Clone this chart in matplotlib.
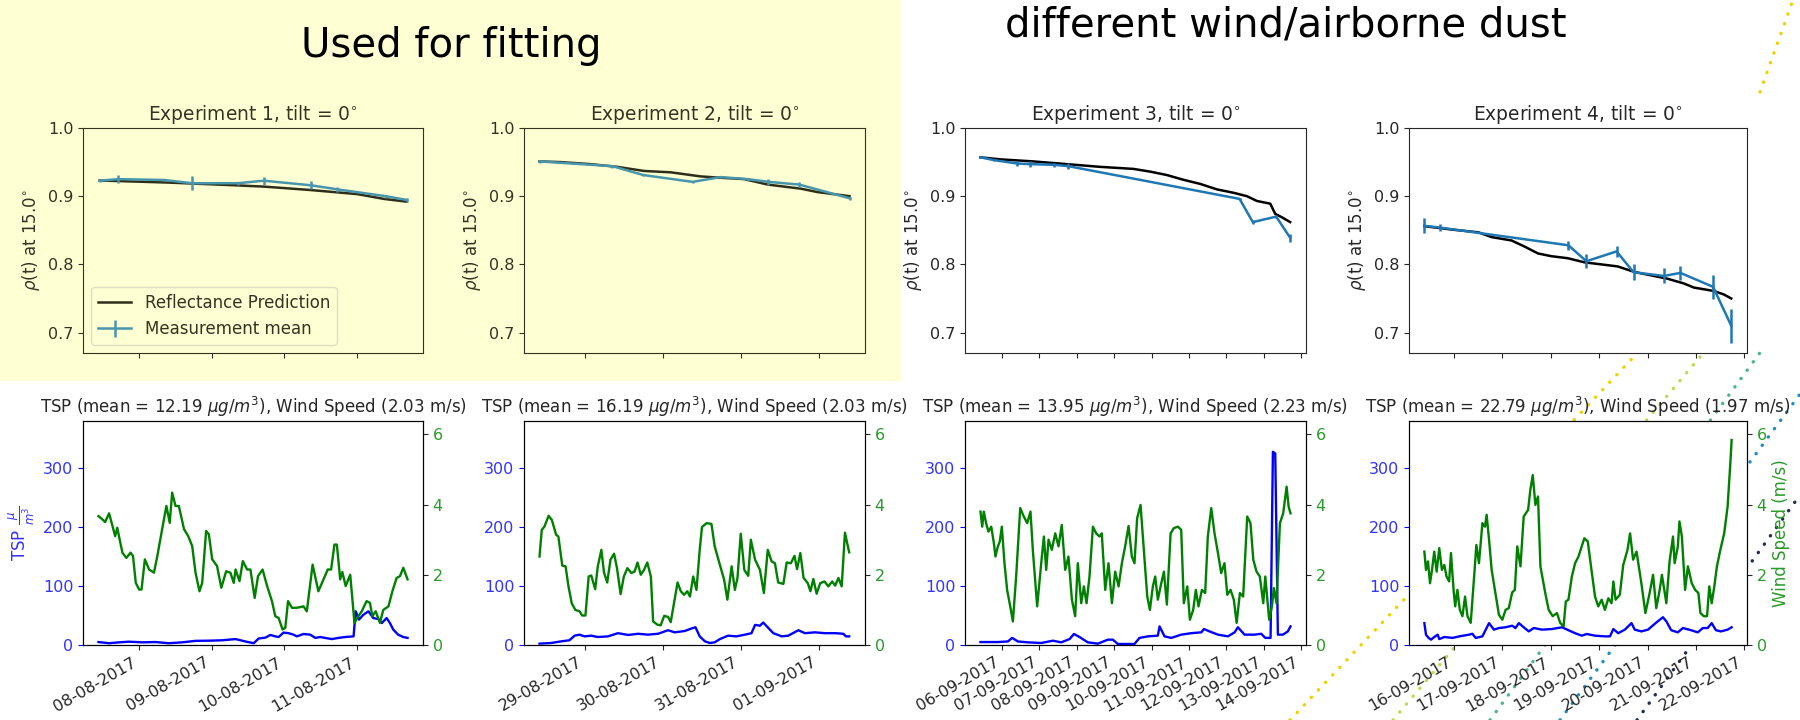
import matplotlib
matplotlib.use("Agg")
import matplotlib.pyplot as plt
import matplotlib.dates as mdates
from matplotlib.lines import Line2D
from matplotlib.patches import Rectangle
import pandas as pd

# ---- data (hours after the start of each experiment) ----
starts = ["2017-08-07 10:40", "2017-08-28 10:10", "2017-09-05 10:10", "2017-09-15 09:15"]
tsp_means = [12.19, 16.19, 13.95, 22.79]
wind_means = [2.03, 2.03, 2.23, 1.97]

exp1_wind_h = [0.0, 1.3, 2.2, 3.5, 4.9, 5.5, 6.2, 7.0, 7.9, 9.2, 10.6, 11.4, 12.3, 13.4, 14.2, 15.3,
               16.7, 18.3, 19.4, 21.0, 22.4, 23.5, 24.3, 25.4, 26.5, 28.2, 29.6, 30.9, 32.0, 33.3,
               34.2, 35.5, 36.4, 37.5, 39.1, 40.5, 42.1, 43.5, 44.6, 45.2, 46.5, 47.6, 49.0, 50.1,
               51.5, 52.6, 54.1, 55.6, 57.2, 58.3, 59.4, 60.7, 61.6, 62.5, 63.8, 65.4, 67.6, 68.7,
               70.6, 72.5, 74.2, 75.6, 76.7, 77.8, 78.6, 79.7, 80.4, 81.5, 83.0, 84.4, 85.7, 86.8,
               88.4, 89.5, 90.3, 91.4, 92.8, 93.9, 95.6, 96.9, 98.3, 99.4, 100.5, 101.9]
exp1_wind = [3.67, 3.58, 3.5, 3.75, 3.3, 3.1, 3.34, 3.0, 2.63, 2.48, 2.63, 2.53, 1.77, 1.58, 1.58, 2.44,
             2.15, 2.06, 2.53, 3.3, 3.96, 3.48, 4.34, 3.96, 3.96, 3.3, 3.1, 2.82, 2.06, 1.53,
             1.77, 3.25, 3.15, 2.44, 2.25, 1.63, 2.1, 2.06, 1.77, 2.15, 1.82, 2.39, 2.15, 2.15,
             1.34, 1.96, 2.15, 1.68, 1.25, 0.82, 0.77, 0.44, 0.49, 1.25, 1.06, 1.06, 1.1, 0.96,
             2.29, 1.53, 1.87, 2.15, 2.15, 2.86, 2.86, 1.87, 2.08, 1.68, 2.0, 0.63, 0.82, 0.96,
             1.25, 1.2, 0.82, 0.96, 0.63, 1.0, 1.1, 1.53, 1.91, 1.96, 2.2, 1.87]
exp1_tsp_h = [0, 3.5, 6.8, 10.1, 14.5, 18.8, 23.2, 27.6, 32.0, 36.4, 40.8, 45.2, 48.4, 51.2, 52.8,
              55.0, 56.7, 58.3, 59.4, 61.0, 62.7, 64.3, 65.4, 67.6, 69.8, 71.5, 73.1, 74.7, 76.9,
              79.1, 81.3, 84.1, 84.8, 85.9, 87.3, 89.0, 90.6, 92.3, 93.4, 95.0, 96.1, 97.2, 98.8,
              100.5, 101.9]
exp1_tsp = [5, 3, 4.5, 5.6, 4.5, 5, 3, 4.5, 7, 7.3, 8, 10, 6, 3, 11,
            12.4, 17, 14.6, 13.5, 21, 20, 17.5, 14.6, 18.6, 17.5, 12, 13.5, 12, 10,
            12, 13.5, 14.6, 57, 43, 51, 57, 45.6, 44, 37, 45.6, 37, 26, 17.5,
            13.5, 12]
exp1_meas_h = [0.4, 6.5, 21.8, 30.8, 45.9, 54.5, 70.0, 78.8, 94.7, 101.6]
exp1_meas = [0.9227, 0.925, 0.9237, 0.919, 0.919, 0.9227, 0.916, 0.910, 0.900, 0.8945]
exp1_err = [0.002, 0.006, 0.002, 0.010, 0.002, 0.006, 0.006, 0.004, 0.002, 0.003]
exp1_pred_h = [0.4, 22.9, 44.8, 54.7, 70.0, 85.4, 94.1, 101.6]
exp1_pred = [0.923, 0.920, 0.916, 0.914, 0.909, 0.903, 0.896, 0.892]

exp2_wind_h = [0, 0.7, 1.5, 2.8, 3.8, 5.1, 5.8, 7.0, 8.0, 8.9, 9.9, 11.0, 12.3, 13.1, 14.1, 15.1,
               15.9, 17.1, 17.9, 19.0, 19.8, 20.8, 21.8, 22.9, 23.8, 24.9, 25.9, 27.0, 28.2, 29.2,
               30.1, 31.1, 32.1, 33.1, 34.2, 34.9, 36.2, 37.2, 38.3, 39.5, 40.3, 41.3, 42.4, 43.4,
               44.4, 45.4, 46.2, 47.2, 48.2, 49.2, 49.9, 51.3, 52.8, 53.8, 55.4, 56.7, 57.7, 59.0,
               60.0, 60.8, 61.8, 62.9, 64.1, 64.9, 66.2, 67.7, 68.9, 70.1, 71.3, 72.3, 73.3, 74.9,
               75.9, 77.2, 78.3, 79.1, 80.1, 81.1, 82.4, 83.2, 84.1, 85.1, 86.2, 87.5, 88.7, 89.9,
               90.8, 91.8, 92.8, 93.8, 95.1]
exp2_wind = [2.52, 3.28, 3.37, 3.68, 3.56, 3.14, 3.09, 2.26, 2.24, 1.67, 1.19, 1.0, 0.96, 0.84, 0.84, 1.95,
             1.98, 1.59, 2.24, 2.71, 2.07, 1.78, 2.43, 2.6, 2.19, 1.45, 1.95, 2.19, 2.05, 2.09,
             2.35, 2.0, 2.14, 2.35, 1.95, 0.67, 0.58, 0.56, 0.83, 0.8, 0.65, 1.19, 1.78, 1.53,
             1.43, 1.53, 1.38, 1.95, 1.57, 2.71, 3.36, 3.47, 3.45, 2.81, 2.28, 1.86, 1.29, 2.24,
             1.57, 1.91, 3.17, 2.14, 1.97, 3.0, 2.43, 2.14, 1.48, 2.71, 2.38, 2.33, 1.78, 1.74,
             2.35, 2.33, 2.54, 2.16, 2.62, 1.91, 1.76, 1.53, 1.88, 1.46, 1.76, 1.81, 1.67, 1.81,
             1.69, 1.91, 1.67, 3.2, 2.64]
exp2_tsp_h = [0, 3.6, 6.7, 9.2, 10.8, 12.3, 13.8, 15.9, 17.9, 21.0, 24.1, 27.2, 30.3, 33.3, 36.4,
              39.5, 41.5, 44.6, 46.7, 47.9, 49.2, 50.8, 52.3, 53.8, 55.4, 57.9, 60.5, 63.1, 65.1,
              66.2, 67.7, 68.7, 70.3, 71.8, 74.4, 76.4, 79.5, 81.5, 84.6, 87.7, 90.8, 93.3, 94.1,
              95.1]
exp2_tsp = [2.3, 3.4, 6.2, 8, 15.8, 17.5, 14.6, 15.8, 13.5, 14.6, 20, 17, 19, 17.5, 19,
            25, 21.4, 23.7, 28, 30, 14.6, 6.2, 3.4, 4.5, 10, 15.8, 14.6, 17.5, 20,
            34, 32.7, 38, 28.7, 20, 14.6, 15.8, 25, 20, 21.4, 20, 20, 19, 14.6,
            14.6]
exp2_meas_h = [0.0, 22.4, 31.9, 47.0, 55.7, 63.9, 70.3, 79.8, 95.2]
exp2_meas = [0.951, 0.944, 0.931, 0.921, 0.928, 0.925, 0.921, 0.917, 0.897]
exp2_err = [0.002, 0.002, 0.002, 0.002, 0.002, 0.002, 0.004, 0.004, 0.002]
exp2_pred_h = [0.0, 6.5, 15.7, 23.9, 32.1, 40.3, 49.5, 55.7, 62.9, 70.1, 80.3, 85.4, 95.2]
exp2_pred = [0.951, 0.950, 0.947, 0.943, 0.937, 0.935, 0.929, 0.927, 0.925, 0.917, 0.911, 0.906, 0.900]

exp3_wind_h = [0, 1.1, 2.1, 3.6, 5.1, 6.9, 8.6, 9.6, 11.1, 12.4, 13.7, 15.4, 17.1, 19.3, 20.8, 22.9,
               25.5, 27.8, 30.0, 32.1, 33.6, 36.4, 39.0, 40.7, 42.2, 43.7, 45.8, 48.0, 50.1, 52.2,
               54.4, 56.5, 58.7, 60.8, 62.5, 64.7, 66.4, 68.1, 70.0, 72.2, 74.3, 76.4, 77.9, 80.1,
               82.2, 84.4, 86.5, 88.7, 90.8, 92.9, 95.1, 97.2, 98.9, 100.6, 102.8, 104.9, 107.1,
               108.8, 110.7, 112.2, 113.9, 116.1, 117.8, 119.7, 122.1, 124.2, 126.8, 128.9, 130.6,
               132.8, 134.5, 136.6, 138.3, 140.0, 142.2, 144.3, 146.0, 148.2, 150.3, 152.5, 154.6,
               156.7, 158.5, 160.6, 162.7, 164.5, 166.6, 168.7, 171.3, 173.4, 175.2, 177.3, 179.4,
               181.6, 182.9, 185.4, 187.2, 188.4, 190.1, 192.3, 194.4, 196.6, 197.9, 199.1]
exp3_wind = [3.8, 3.37, 3.8, 3.47, 3.23, 3.37, 2.9, 2.52, 2.8, 2.95, 3.37, 2.33, 1.57, 1.05, 0.67, 1.95,
             3.9, 3.66, 3.47, 3.8, 2.71, 1.1, 2.33, 3.09, 2.14, 3.0, 2.71, 3.18, 2.81, 3.42,
             2.14, 2.52, 1.29, 0.82, 2.33, 1.19, 1.67, 1.19, 1.95, 3.37, 3.18, 3.09, 3.18, 1.57,
             2.33, 1.19, 2.09, 1.67, 2.33, 2.81, 3.39, 2.52, 2.33, 3.61, 3.99, 2.71, 1.38,
             1.0, 1.67, 1.95, 1.29, 1.76, 2.09, 1.15, 3.18, 3.33, 3.37, 3.28, 1.19,
             1.67, 0.72, 1.0, 1.57, 1.1, 1.57, 1.48, 3.09, 3.9, 3.18, 2.62, 2.05,
             2.33, 1.43, 1.57, 1.29, 0.63, 1.48, 1.38, 3.66, 3.47, 2.43, 2.09, 1.95,
             1.19, 1.95, 0.72, 1.1, 1.62, 1.19, 3.47, 3.75, 4.51, 3.94, 3.75]
exp3_tsp_h = [0, 4.7, 11.1, 17.6, 20.3, 24.0, 30.4, 39.0, 46.5, 51.8, 57.2, 60.0, 63.6, 68.9, 75.4,
              81.8, 85.0, 88.2, 98.9, 102.1, 107.5, 113.9, 115.0, 118.2, 122.5, 128.9, 135.3, 141.8,
              143.5, 147.1, 152.5, 158.9, 163.2, 165.3, 169.6, 176.0, 180.3, 182.9, 186.3, 187.8,
              189.3, 191.0, 194.2, 197.4, 199.1]
exp3_tsp = [5, 5, 5, 6, 12, 6, 4.5, 3.4, 7.3, 4.5, 10, 18.6, 13.5, 4.5, 2.3,
            9, 9, 1.7, 1.7, 12, 14.6, 15.8, 31.5, 14.6, 12, 17.5, 20, 21.4,
            27, 23, 17.5, 14.6, 21.4, 30, 17.5, 17.5, 19, 12, 12, 327,
            324, 17.5, 17.5, 23, 31.5]
exp3_meas_h = [0.0, 8.4, 23.3, 31.5, 47.3, 56.5, 166.4, 174.9, 189.9, 198.9]
exp3_meas = [0.957, 0.953, 0.948, 0.947, 0.946, 0.944, 0.896, 0.862, 0.870, 0.839]
exp3_err = [0.001, 0.002, 0.004, 0.004, 0.003, 0.004, 0.002, 0.003, 0.002, 0.006]
exp3_pred_h = [0.0, 12.6, 34.0, 55.5, 76.9, 98.3, 109.0, 119.7, 130.4, 141.1, 151.8, 162.5, 171.1,
               177.5, 186.1, 189.3, 193.6, 198.9]
exp3_pred = [0.957, 0.954, 0.951, 0.947, 0.943, 0.940, 0.936, 0.931, 0.924, 0.918, 0.910, 0.905, 0.900,
             0.893, 0.889, 0.874, 0.869, 0.862]

exp4_wind_h = [0, 0.8, 1.8, 2.8, 3.8, 4.9, 6.1, 7.4, 8.7, 9.9, 11.0, 12.3, 13.2, 14.5, 15.3, 16.4,
               17.6, 18.9, 20.2, 21.4, 23.0, 24.7, 25.8, 27.1, 28.8, 30.1, 30.9, 32.1, 33.4, 35.0,
               37.0, 38.7, 40.3, 41.9, 43.6, 44.9, 46.1, 47.7, 49.3, 51.5, 52.6, 53.8, 55.1, 56.4,
               57.6, 60.0, 61.7, 63.7, 65.8, 67.4, 69.1, 70.2, 71.5, 73.2, 74.8, 76.5, 78.1, 79.4,
               81.1, 82.7, 84.7, 86.3, 88.0, 89.6, 91.3, 92.9, 93.8, 94.9, 97.0, 98.7, 100.8, 102.1,
               103.6, 105.3, 107.7, 109.7, 111.8, 113.5, 115.1, 116.8, 117.9, 120.1, 121.7, 123.4,
               124.2, 125.8, 126.6, 127.8, 129.4, 130.8, 132.7, 134.4, 136.0, 137.0, 138.7, 140.3,
               141.4, 142.6, 143.9, 145.2, 146.9, 148.8, 150.5, 151.8, 152.5]
exp4_wind = [2.66, 2.14, 2.38, 1.76, 2.14, 2.66, 2.09, 2.76, 2.14, 2.28, 1.95, 1.81, 2.62, 1.57, 1.1, 1.57,
             1.0, 0.82, 1.38, 0.82, 0.63, 1.95, 2.85, 2.33, 3.47, 3.37, 3.71, 3.0, 2.14, 1.57,
             0.86, 0.72, 1.0, 1.05, 1.5, 1.57, 2.81, 2.24, 3.66, 3.85, 4.42, 4.84, 3.99, 4.23,
             2.24, 1.48, 1.0, 0.82, 0.91, 0.63, 0.53, 1.24, 1.29, 1.95, 2.33, 2.52, 2.81, 3.04,
             2.95, 2.24, 1.38, 1.1, 1.29, 1.0, 1.33, 1.19, 1.81, 1.29, 1.43, 2.28, 2.71, 3.18,
             2.43, 2.66, 1.76, 0.91, 1.48, 2.0, 1.05, 1.57, 2.0, 1.19, 2.38, 3.09,
             2.33, 2.81, 3.52, 3.09, 1.57, 2.24, 1.76, 1.57, 1.48, 0.91, 0.82, 0.82,
             1.67, 1.19, 1.67, 2.24, 2.71, 3.18, 3.94, 5.13, 5.84]
exp4_tsp_h = [0, 0.8, 2.1, 3.3, 4.9, 6.6, 7.4, 9.9, 14.0, 17.3, 22.2, 23.8, 25.5, 28.8, 32.1, 34.5,
              37.0, 40.3, 43.6, 45.2, 46.9, 49.3, 51.8, 54.3, 58.4, 63.3, 68.3, 71.5, 74.8, 78.1,
              80.6, 84.7, 89.6, 92.1, 93.8, 96.2, 99.5, 102.8, 104.4, 107.7, 111.0, 115.1, 118.4,
              120.1, 122.5, 125.8, 128.3, 132.4, 135.7, 138.2, 140.6, 142.6, 144.7, 147.2, 150.5,
              152.5]
exp4_tsp = [37, 17.5, 12, 9, 13.5, 17.5, 10, 13.5, 12, 14.6, 17.5, 19, 12, 14.6, 37, 26,
            28.7, 30, 32.7, 28.7, 37, 30, 23, 28.7, 26, 27, 30, 25, 20, 15.8,
            18.6, 15.8, 14.6, 14.6, 27, 20, 26, 37, 26, 23, 26, 38, 47,
            40, 25, 21.4, 28.7, 25, 21.4, 28.7, 28.7, 37, 25, 23, 26,
            30]
exp4_meas_h = [0.0, 7.6, 71.5, 80.4, 95.4, 103.8, 118.9, 127.1, 143.3, 152.3]
exp4_meas = [0.8566, 0.854, 0.828, 0.8046, 0.819, 0.7885, 0.783, 0.7875, 0.767, 0.710]
exp4_err = [0.011, 0.005, 0.007, 0.010, 0.008, 0.012, 0.011, 0.010, 0.018, 0.025]
exp4_pred_h = [0.0, 13.7, 26.8, 33.4, 43.3, 49.8, 56.4, 63.0, 71.2, 79.4, 87.7, 95.9, 104.1, 112.3,
               120.6, 128.8, 133.7, 143.6, 148.5, 152.3]
exp4_pred = [0.856, 0.851, 0.847, 0.840, 0.835, 0.826, 0.816, 0.812, 0.809, 0.803, 0.800, 0.797, 0.789,
             0.784, 0.779, 0.772, 0.766, 0.761, 0.756, 0.750]

experiments = [
    (exp1_wind_h, exp1_wind, exp1_tsp_h, exp1_tsp, exp1_meas_h, exp1_meas, exp1_err, exp1_pred_h, exp1_pred),
    (exp2_wind_h, exp2_wind, exp2_tsp_h, exp2_tsp, exp2_meas_h, exp2_meas, exp2_err, exp2_pred_h, exp2_pred),
    (exp3_wind_h, exp3_wind, exp3_tsp_h, exp3_tsp, exp3_meas_h, exp3_meas, exp3_err, exp3_pred_h, exp3_pred),
    (exp4_wind_h, exp4_wind, exp4_tsp_h, exp4_tsp, exp4_meas_h, exp4_meas, exp4_err, exp4_pred_h, exp4_pred),
]


def to_time(start, hours):
    return pd.Timestamp(start) + pd.to_timedelta(hours, unit="h")


plt.rcParams["font.size"] = 12
plt.rcParams["xtick.labelsize"] = 11.5
plt.rcParams["ytick.labelsize"] = 11.5
plt.rcParams["font.family"] = ["DejaVu Sans"]

fig = plt.figure(figsize=(18, 7.2), dpi=100)
fig.patch.set_facecolor("white")

# yellow "used for fitting" box behind the first two experiments
fig.add_artist(Rectangle((0, 1 - 381 / 720), 901 / 1800, 381 / 720, transform=fig.transFigure,
                         facecolor="#ffffd4", edgecolor="none", zorder=-10))

title_font = ["Liberation Sans Narrow", "DejaVu Sans"]
fig.text(451 / 1800, 1 - 46 / 720, "Used for fitting", ha="center", va="center",
         fontsize=29, family=title_font)
fig.text(1286 / 1800, 1 - 26 / 720, "different wind/airborne dust", ha="center", va="center",
         fontsize=29, family=title_font)

lefts = [83, 524, 965, 1409]
widths = [340, 341, 341, 338]
dark = "#262626"
olive = "#333322"

for i, (wh, w, th, t, mh, m, me, ph, p) in enumerate(experiments):
    x0 = lefts[i] / 1800
    wd = widths[i] / 1800
    ax_b = fig.add_axes([x0, 1 - 645 / 720, wd, 224 / 720])
    ax_t = fig.add_axes([x0, 1 - 353 / 720, wd, 225 / 720], sharex=ax_b)
    fitted = i < 2
    txt = olive if fitted else dark

    # top: reflectance
    if fitted:
        ax_t.set_facecolor("none")
        pred_c, meas_c = "#2e2e18", "#4896ae"
    else:
        pred_c, meas_c = "black", "#1f77b4"
    ax_t.plot(to_time(starts[i], ph), p, color=pred_c, lw=1.8, label="Reflectance Prediction")
    ax_t.errorbar(to_time(starts[i], mh), m, yerr=me, color=meas_c, lw=1.8, elinewidth=1.8,
                  label="Measurement mean")
    ax_t.set_ylim(0.67, 1.0)
    ax_t.set_yticks([0.7, 0.8, 0.9, 1.0])
    ax_t.set_title(f"Experiment {i + 1}, tilt = 0$^{{\\circ}}$", color=txt, fontsize=13.4)
    ax_t.set_ylabel(r"$\rho$(t) at 15.0$^{\circ}$", color=txt)
    ax_t.tick_params(axis="x", labelbottom=False, color=txt)
    ax_t.tick_params(axis="y", colors=txt)
    for sp in ax_t.spines.values():
        sp.set_color(txt)
    if i == 0:
        leg = ax_t.legend(loc="lower left", fontsize=12, facecolor="none", edgecolor="#d8d8c0")
        for tx in leg.get_texts():
            tx.set_color(olive)

    # bottom: TSP and wind speed
    ax_b.plot(to_time(starts[i], th), t, color="blue", lw=1.7)
    ax_b.set_ylim(0, 379)
    ax_b.set_yticks([0, 100, 200, 300])
    ax_b.tick_params(axis="y", colors="blue", labelcolor="#3333ff")
    ax_b.tick_params(axis="x", colors=dark)
    ax_w = ax_b.twinx()
    ax_w.plot(to_time(starts[i], wh), w, color="green", lw=1.7)
    ax_w.set_ylim(0, 6.38)
    ax_w.set_yticks([0, 2, 4, 6])
    ax_w.tick_params(axis="y", colors=dark, labelcolor="#2a9a2a")
    ax_b.set_title(f"TSP (mean = {tsp_means[i]:.2f} $\\mu g/m^3$), Wind Speed ({wind_means[i]:.2f} m/s)",
                   fontsize=12, color=dark)
    if i == 0:
        ax_b.set_ylabel(r"TSP $\frac{\mu}{m^3}$", color="#3333ff")
    if i == 3:
        ax_w.set_ylabel("Wind Speed (m/s)", color="#2a9a2a")
    ax_b.xaxis.set_major_locator(mdates.DayLocator())
    ax_b.xaxis.set_major_formatter(mdates.DateFormatter("%d-%m-%Y"))
    plt.setp(ax_b.get_xticklabels(), rotation=30, ha="right")

# decorative dotted slide lines; they sit behind the (white) plot areas
deco = [
    ((1290, 720), (1645, 345), "#f0d000"),
    ((1393, 720), (1700, 357), "#c6d650"),
    ((1490, 720), (1762, 350), "#4ab496"),
    ((1560, 720), (1800, 394), "#1c8ec2"),
    ((1637, 720), (1800, 495), "#232c58"),
    ((1760, 92), (1793, 0), "#f0d000"),
]
for (xa, ya), (xb, yb), c in deco:
    fig.add_artist(Line2D([xa / 1800, xb / 1800], [1 - ya / 720, 1 - yb / 720], transform=fig.transFigure,
                          color=c, lw=2.4, linestyle=(0, (0.1, 3.0)), dash_capstyle="round", zorder=-5))

fig.savefig("out.png", dpi=100)
